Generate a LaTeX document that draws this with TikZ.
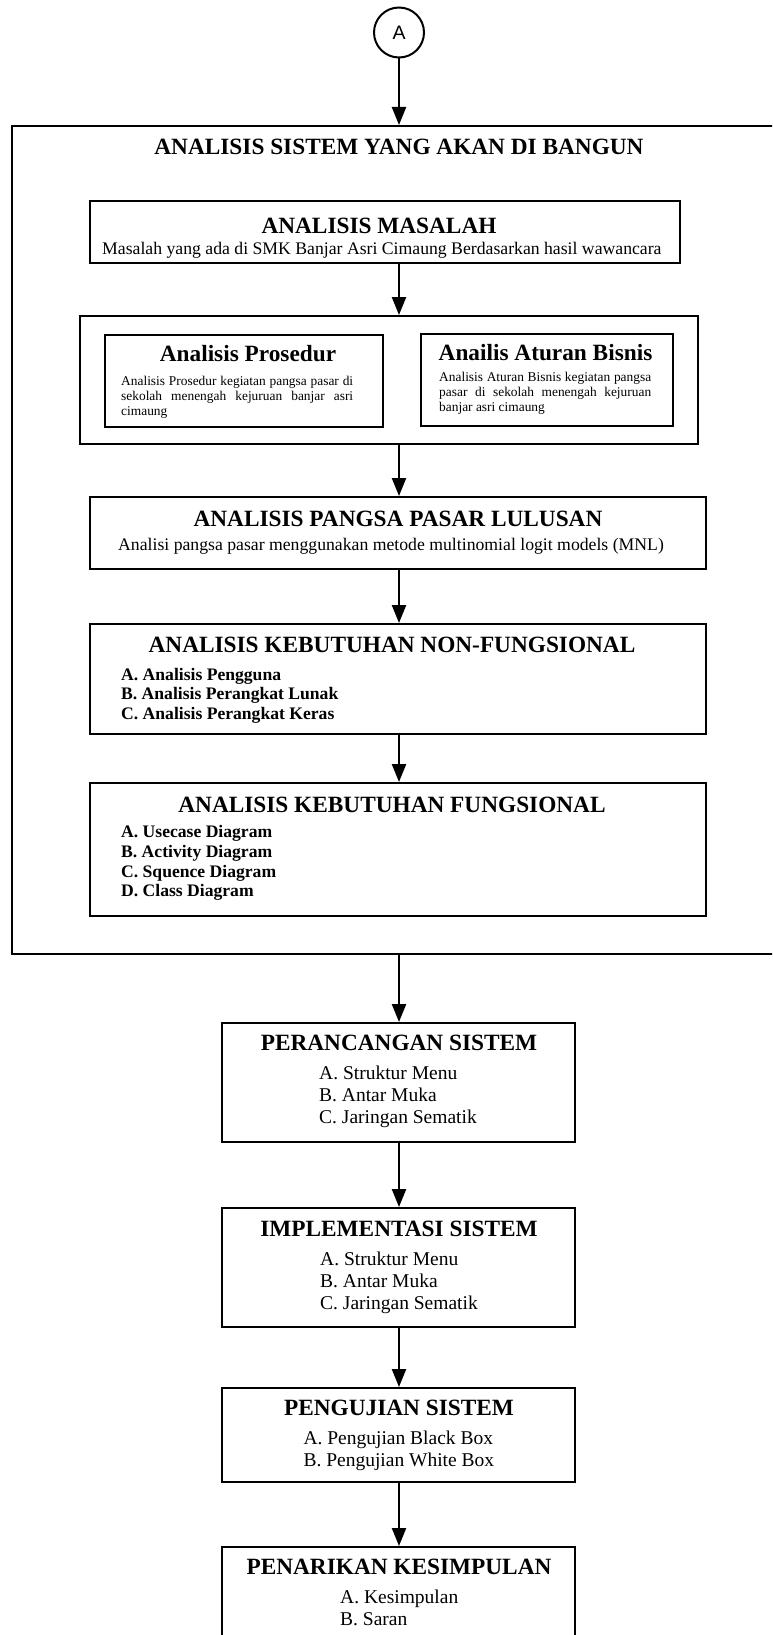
\documentclass[tikz,border=0pt]{standalone}
\usepackage{fontspec}
\setmainfont{Liberation Serif}
\newfontfamily\arialf{Liberation Sans}
\usetikzlibrary{arrows.meta}
\begin{document}
\begin{tikzpicture}[x=1pt,y=-1pt,
  box/.style={draw, line width=2pt, rectangle, inner sep=0pt},
  arr/.style={line width=2.3pt, -{Triangle[length=18pt,width=14pt]}},
  ttl/.style={anchor=base, inner sep=0pt, font=\fontsize{23.3}{28}\selectfont\bfseries},
  sub/.style={anchor=base west, inner sep=0pt, font=\fontsize{17.7}{21}\selectfont},
  bitem/.style={anchor=base west, inner sep=0pt, font=\fontsize{17.6}{19.67}\selectfont\bfseries},
  ritem/.style={anchor=base west, inner sep=0pt, font=\fontsize{19.5}{22}\selectfont},
  para/.style={anchor=base west, inner sep=0pt, font=\fontsize{13.4}{15}\selectfont},
]
\useasboundingbox (0,0) rectangle (772,1635);
\clip (0,0) rectangle (772,1635);

% connector circle
\node[draw, circle, line width=2pt, minimum size=50pt, inner sep=0pt] (A) at (399,32.5)
  {\arialf\fontsize{19.5}{20}\selectfont A};

% boxes
\node[box, minimum width=780pt, minimum height=828pt] (outer) at (402,540) {};
\node[box, minimum width=590pt, minimum height=62pt] (masalah) at (385,232) {};
\node[box, minimum width=618pt, minimum height=128pt] (cont) at (389,380) {};
\node[box, minimum width=278pt, minimum height=92pt] (prosedur) at (244,381) {};
\node[box, minimum width=252pt, minimum height=92pt] (aturan) at (547,380) {};
\node[box, minimum width=616pt, minimum height=72pt] (pangsa) at (398,533) {};
\node[box, minimum width=616pt, minimum height=110pt] (nonfung) at (398,679) {};
\node[box, minimum width=616pt, minimum height=133pt] (fung) at (398,849.5) {};
\node[box, minimum width=353pt, minimum height=119pt] (peranc) at (398.5,1082.5) {};
\node[box, minimum width=353pt, minimum height=119pt] (impl) at (398.5,1267.5) {};
\node[box, minimum width=353pt, minimum height=94pt] (uji) at (398.5,1435) {};
\node[box, minimum width=353pt, minimum height=118pt] (tarik) at (398.5,1606) {};

% texts
\node[ttl] (t0) at (399,154.5) {ANALISIS SISTEM YANG AKAN DI BANGUN};
\node[ttl] (t1) at (379,233) {ANALISIS MASALAH};
\node[sub] (s1) at (102,254.5) {Masalah yang ada di SMK Banjar Asri Cimaung Berdasarkan hasil wawancara};
\node[ttl] (t2) at (248,361.5) {Analisis Prosedur};
\node[para] (p2) at (121,385) {\parbox[t]{232pt}{Analisis Prosedur kegiatan pangsa pasar di\linebreak sekolah menengah kejuruan banjar asri\linebreak cimaung}};
\node[ttl] (t3) at (545.5,360) {Anailis Aturan Bisnis};
\node[para] (p3) at (439,381.5) {\parbox[t]{212pt}{Analisis Aturan Bisnis kegiatan pangsa\linebreak pasar di sekolah menengah kejuruan\linebreak banjar asri cimaung}};
\node[ttl] (t4) at (398,526.5) {ANALISIS PANGSA PASAR LULUSAN};
\node[sub] (s4) at (118,550.5) {Analisi pangsa pasar menggunakan metode multinomial logit models (MNL)};
\node[ttl] (t5) at (392,652) {ANALISIS KEBUTUHAN NON-FUNGSIONAL};
\node[bitem] (l5) at (121,680) {\vtop{\hbox{A. Analisis Pengguna}\hbox{B. Analisis Perangkat Lunak}\hbox{C. Analisis Perangkat Keras}}};
\node[ttl] (t6) at (392,812) {ANALISIS KEBUTUHAN FUNGSIONAL};
\node[bitem] (l6) at (121,837.7) {\vtop{\hbox{A. Usecase Diagram}\hbox{B. Activity Diagram}\hbox{C. Squence Diagram}\hbox{D. Class Diagram}}};
\node[ttl] (t7) at (399,1050) {PERANCANGAN SISTEM};
\node[ritem] (l7) at (319,1079) {\vtop{\hbox{A. Struktur Menu}\hbox{B. Antar Muka}\hbox{C. Jaringan Sematik}}};
\node[ttl] (t8) at (399,1236) {IMPLEMENTASI SISTEM};
\node[ritem] (l8) at (320,1265) {\vtop{\hbox{A. Struktur Menu}\hbox{B. Antar Muka}\hbox{C. Jaringan Sematik}}};
\node[ttl] (t9) at (399,1415.7) {PENGUJIAN SISTEM};
\node[ritem] (l9) at (303.3,1444.3) {\vtop{\hbox{A. Pengujian Black Box}\hbox{B. Pengujian White Box}}};
\node[ttl] (t10) at (399,1574.3) {PENARIKAN KESIMPULAN};
\node[ritem] (l10) at (340,1603.3) {\vtop{\hbox{A. Kesimpulan}\hbox{B. Saran}}};

% connectors
\draw[arr] (A.south) -- (A.south |- outer.north);
\draw[arr] (masalah.south -| A) -- (cont.north -| A);
\draw[arr] (cont.south -| A) -- (pangsa.north -| A);
\draw[arr] (pangsa.south -| A) -- (nonfung.north -| A);
\draw[arr] (nonfung.south -| A) -- (fung.north -| A);
\draw[arr] (outer.south -| A) -- (peranc.north -| A);
\draw[arr] (peranc.south -| A) -- (impl.north -| A);
\draw[arr] (impl.south -| A) -- (uji.north -| A);
\draw[arr] (uji.south -| A) -- (tarik.north -| A);
\end{tikzpicture}
\end{document}
